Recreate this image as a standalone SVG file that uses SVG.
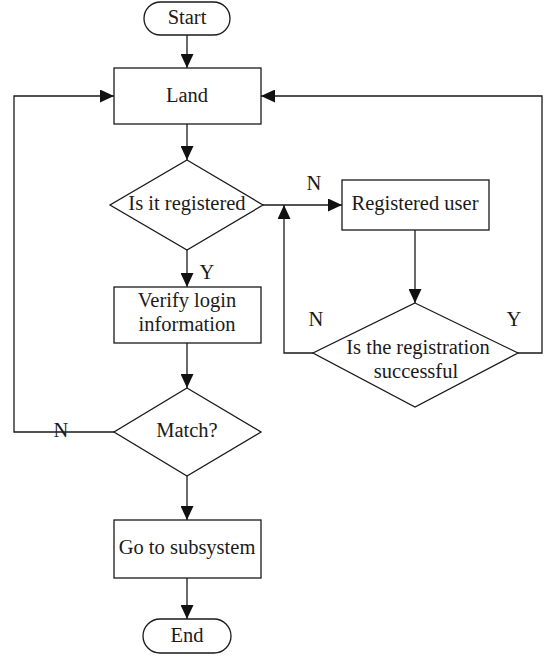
<svg xmlns="http://www.w3.org/2000/svg" width="547" height="657" viewBox="0 0 547 657">
<style>
.s{fill:#fff;stroke:#1a1a1a;stroke-width:1.3}
.c{fill:none;stroke:#1a1a1a;stroke-width:1.3}
text{font-family:"Liberation Serif","Times New Roman",serif;font-size:20.5px;fill:#1a1a1a;text-anchor:middle}
</style>
<defs>
<marker id="a" viewBox="0 0 14 13" refX="14" refY="6.5" markerWidth="14" markerHeight="13" markerUnits="userSpaceOnUse" orient="auto">
<path d="M0,0L14,6.5L0,13z" fill="#111"/>
</marker>
</defs>
<g id="connectors">
<line class="c" x1="187" y1="35" x2="187" y2="68" marker-end="url(#a)"/>
<line class="c" x1="187" y1="124" x2="187" y2="160" marker-end="url(#a)"/>
<line class="c" x1="263" y1="205" x2="342" y2="205" marker-end="url(#a)"/>
<line class="c" x1="415" y1="230" x2="415" y2="303" marker-end="url(#a)"/>
<polyline class="c" points="313,353 284,353 284,205" marker-end="url(#a)"/>
<polyline class="c" points="518,353 542,353 542,96 261,96" marker-end="url(#a)"/>
<line class="c" x1="187" y1="250" x2="187" y2="287" marker-end="url(#a)"/>
<line class="c" x1="187" y1="343" x2="187" y2="388" marker-end="url(#a)"/>
<polyline class="c" points="114,432 14,432 14,96 114,96" marker-end="url(#a)"/>
<line class="c" x1="187" y1="476" x2="187" y2="520" marker-end="url(#a)"/>
<line class="c" x1="187" y1="578" x2="187" y2="619" marker-end="url(#a)"/>
<text x="314" y="190">N</text>
<text x="316" y="326">N</text>
<text x="514" y="326">Y</text>
<text x="207" y="279">Y</text>
<text x="61" y="437">N</text>
</g>
<g id="start"><rect class="s" x="144" y="2" width="86" height="33" rx="16.5"/><text x="187" y="24">Start</text></g>
<g id="land"><rect class="s" x="114" y="68" width="147" height="56"/><text x="187" y="102">Land</text></g>
<g id="registered"><polygon class="s" points="187,160 263,205 187,250 110,205"/><text x="187" y="210">Is it registered</text></g>
<g id="reguser"><rect class="s" x="342" y="180" width="147" height="50"/><text x="415" y="210">Registered user</text></g>
<g id="regsuccess"><polygon class="s" points="415,303 518,353 415,407 313,353"/><text x="418" y="354">Is the registration</text><text x="416" y="378">successful</text></g>
<g id="verify"><rect class="s" x="114" y="287" width="147" height="56"/><text x="187" y="307">Verify login</text><text x="187" y="331">information</text></g>
<g id="match"><polygon class="s" points="187,388 261,432 187,476 114,432"/><text x="187" y="437">Match?</text></g>
<g id="subsystem"><rect class="s" x="114" y="520" width="147" height="58"/><text x="187" y="554">Go to subsystem</text></g>
<g id="end"><rect class="s" x="143" y="619" width="88" height="34" rx="17"/><text x="187" y="642">End</text></g>
</svg>
